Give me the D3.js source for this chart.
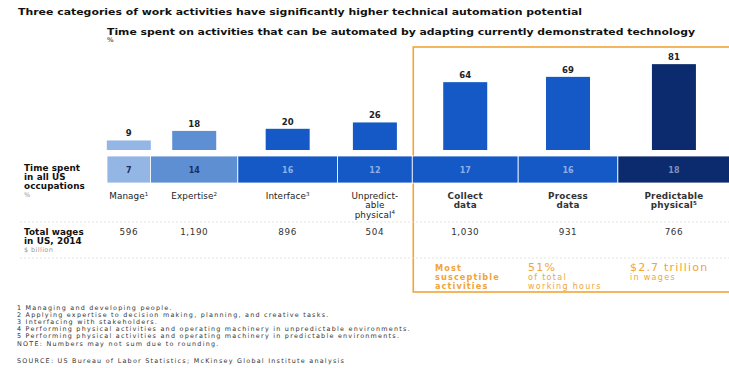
<!DOCTYPE html>
<html>
<head>
<meta charset="utf-8">
<script src="https://cdn.jsdelivr.net/npm/d3@7"></script>
<style>
  html, body { margin: 0; padding: 0; background: #ffffff; }
  svg { display: block; font-family: "Liberation Sans", Arial, sans-serif; }
  .heavy { font-family: "DejaVu Sans", "Liberation Sans", sans-serif; font-weight: bold; }
  .wide { font-family: "DejaVu Sans", "Liberation Sans", sans-serif; }
</style>
</head>
<body>
<div id="chart"></div>
<script>
// Activity categories (label lines, footnote mark)
const categories = [
  { lines: ["Manage"], note: "1" },
  { lines: ["Expertise"], note: "2" },
  { lines: ["Interface"], note: "3" },
  { lines: ["Unpredict-", "able", "physical"], note: "4" },
  { lines: ["Collect", "data"], note: "" },
  { lines: ["Process", "data"], note: "" },
  { lines: ["Predictable", "physical"], note: "5" }
];
// % of time spent on activities that can be automated
const automatable = [9, 18, 20, 26, 64, 69, 81];
// % of time spent in all US occupations
const timeShare = [7, 14, 16, 12, 17, 16, 18];
// Total wages in US, 2014, $ billion
const wages = ["596", "1,190", "896", "504", "1,030", "931", "766"];
const barColors = ["#93b6e4", "#5e8fd3", "#1459c6", "#1459c6", "#1459c6", "#1459c6", "#0c2b6e"];
const shareText = ["#1a2f5e", "#1a2f5e", "#8eaee6", "#8eaee6", "#8eaee6", "#8eaee6", "#7f93c0"];

const footnotes = [
  "1   Managing and developing people.",
  "2   Applying expertise to decision making, planning, and creative tasks.",
  "3   Interfacing with stakeholders.",
  "4   Performing physical activities and operating machinery in unpredictable environments.",
  "5   Performing physical activities and operating machinery in predictable environments.",
  "NOTE: Numbers may not sum due to rounding."
];
const source = "SOURCE:  US Bureau of Labor Statistics; McKinsey Global Institute analysis";

const W = 729, H = 368;
const svg = d3.select("#chart").append("svg").attr("width", W).attr("height", H);

// Horizontal strip: each category's width is its share of working time
const cum = d3.cumsum(timeShare);
const starts = timeShare.map((v, i) => cum[i] - v);
const x = d3.scaleLinear().domain([0, d3.sum(timeShare)]).range([107, 730]);
const centers = timeShare.map((v, i) => x(starts[i] + v / 2));

// Bar heights: share of time that is automatable
const y = d3.scaleLinear().domain([0, 100]).range([150, 44]);
const barW = 44;

const orange = "#f2a436";

// Titles
svg.append("text").attr("class", "heavy").attr("x", 18).attr("y", 15)
  .attr("font-size", 9).attr("fill", "#111")
  .attr("textLength", 564).attr("lengthAdjust", "spacingAndGlyphs")
  .text("Three categories of work activities have significantly higher technical automation potential");
svg.append("text").attr("class", "heavy").attr("x", 107).attr("y", 35)
  .attr("font-size", 9.4).attr("fill", "#111")
  .attr("textLength", 588).attr("lengthAdjust", "spacingAndGlyphs")
  .text("Time spent on activities that can be automated by adapting currently demonstrated technology");
svg.append("text").attr("class", "heavy").attr("x", 107).attr("y", 41.5)
  .attr("font-size", 6.5).attr("fill", "#666").text("%");

// Highlight box around the three most susceptible categories
svg.append("rect")
  .attr("x", x(starts[4]) + 1).attr("y", 47)
  .attr("width", W - x(starts[4]) + 10).attr("height", 245)
  .attr("fill", "none").attr("stroke", orange).attr("stroke-width", 1.6);

// Faint row separators
[222, 258].forEach(yy => {
  svg.append("line").attr("x1", 20).attr("x2", W).attr("y1", yy).attr("y2", yy)
    .attr("stroke", "#dcdcdc").attr("stroke-width", 0.8).attr("stroke-dasharray", "2,2");
});

// Automatable bars
svg.append("g").selectAll("rect").data(automatable).join("rect")
  .attr("x", (d, i) => centers[i] - barW / 2)
  .attr("y", d => y(d))
  .attr("width", barW)
  .attr("height", d => y(0) - y(d))
  .attr("fill", (d, i) => barColors[i]);

svg.append("g").selectAll("text").data(automatable).join("text")
  .attr("class", "heavy")
  .attr("x", (d, i) => centers[i])
  .attr("y", d => y(d) - 4)
  .attr("text-anchor", "middle")
  .attr("font-size", 8.5).attr("fill", "#222")
  .text(d => d);

// Time-share strip
const stripTop = 156, stripH = 27;
svg.append("g").selectAll("rect").data(timeShare).join("rect")
  .attr("x", (d, i) => x(starts[i]))
  .attr("y", stripTop)
  .attr("width", (d, i) => x(starts[i] + d) - x(starts[i]))
  .attr("height", stripH)
  .attr("fill", (d, i) => barColors[i])
  .attr("stroke", "#ffffff").attr("stroke-width", 0.8);

svg.append("g").selectAll("text").data(timeShare).join("text")
  .attr("class", "heavy")
  .attr("x", (d, i) => centers[i])
  .attr("y", stripTop + stripH / 2 + 3)
  .attr("text-anchor", "middle")
  .attr("font-size", 8)
  .attr("fill", (d, i) => shareText[i])
  .text(d => d);

// Row headers
const rowHead = (lines, y0, step) => {
  lines.forEach((l, i) => {
    svg.append("text").attr("class", l.sub ? "wide" : "heavy")
      .attr("x", 24).attr("y", y0 + i * step)
      .attr("font-size", l.sub ? 6.5 : 8.8)
      .attr("letter-spacing", l.sub ? 0.4 : 0.1)
      .attr("fill", l.sub ? "#999" : "#111").text(l.t);
  });
};
rowHead([{ t: "Time spent" }, { t: "in all US" }, { t: "occupations" }, { t: "%", sub: true }], 171, 8.8);
rowHead([{ t: "Total wages" }, { t: "in US, 2014" }, { t: "$ billion", sub: true }], 235, 8.6);

// Category labels
categories.forEach((c, i) => {
  const bold = i >= 4;
  c.lines.forEach((l, j) => {
    const t = svg.append("text").attr("class", "wide")
      .attr("x", centers[i]).attr("y", 199 + j * 9.3)
      .attr("text-anchor", "middle").attr("font-size", 8.8)
      .attr("font-weight", bold ? "bold" : "normal")
      .attr("letter-spacing", bold ? 0.2 : 0.1)
      .attr("fill", bold ? "#333" : "#222");
    t.append("tspan").text(l);
    if (j === c.lines.length - 1 && c.note) {
      t.append("tspan").attr("font-size", 5.5).attr("dy", -3.5).text(c.note);
    }
  });
});

// Wages row
svg.append("g").selectAll("text").data(wages).join("text")
  .attr("class", "wide")
  .attr("x", (d, i) => centers[i])
  .attr("y", 235)
  .attr("text-anchor", "middle")
  .attr("font-size", 8.8).attr("letter-spacing", 0.6).attr("fill", "#333")
  .text(d => d);

// Highlight call-outs
const callout = (x0, big, lines, bold) => {
  if (big) {
    svg.append("text").attr("class", "wide").attr("x", x0).attr("y", 271)
      .attr("font-size", 11).attr("letter-spacing", 1.2).attr("fill", orange).text(big);
  }
  lines.forEach((l, i) => {
    svg.append("text").attr("class", bold ? "heavy" : "wide")
      .attr("x", x0).attr("y", (big ? 280 : 270.5) + i * 9)
      .attr("font-size", bold ? 8.2 : 8)
      .attr("letter-spacing", bold ? 1.1 : 1.3)
      .attr("fill", orange).text(l);
  });
};
callout(435, null, ["Most", "susceptible", "activities"], true);
callout(528, "51%", ["of total", "working hours"], false);
callout(630, "$2.7 trillion", ["in wages"], false);

// Footnotes
footnotes.forEach((f, i) => {
  svg.append("text").attr("class", "wide").attr("x", 17).attr("y", 310 + i * 7.1)
    .attr("font-size", 6.4).attr("letter-spacing", 1.25).attr("fill", "#333").text(f);
});
svg.append("text").attr("class", "wide").attr("x", 17).attr("y", 363)
  .attr("font-size", 6.4).attr("letter-spacing", 1.25).attr("fill", "#333").text(source);
</script>
</body>
</html>
